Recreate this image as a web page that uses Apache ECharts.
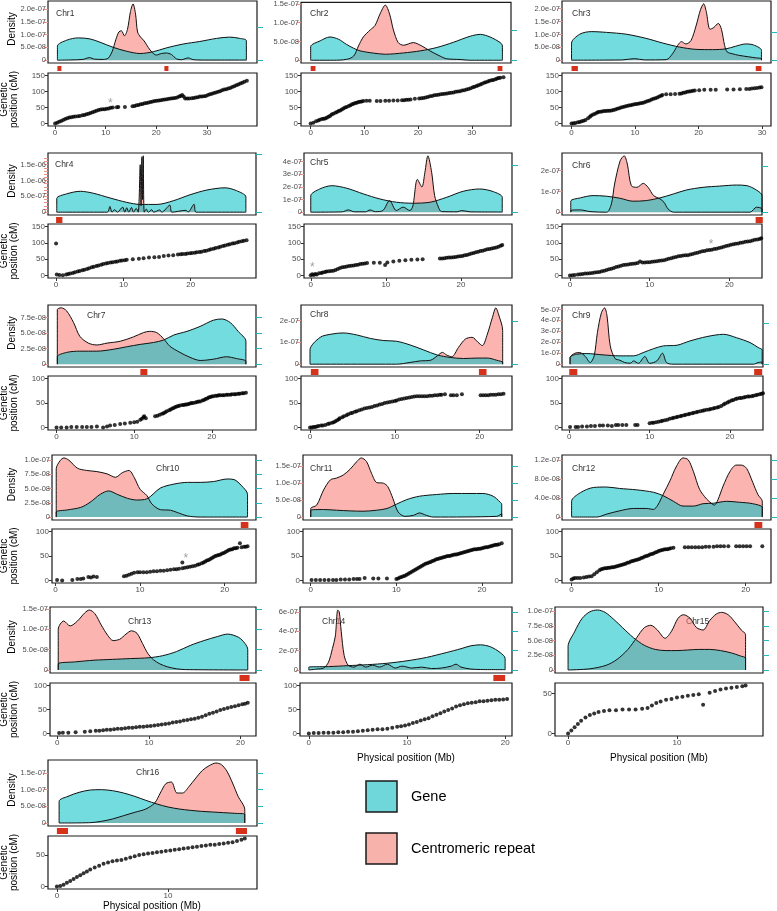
<!DOCTYPE html>
<html><head><meta charset="utf-8">
<script src="https://cdn.jsdelivr.net/npm/echarts@6/dist/echarts.min.js"></script>
<style>html,body{margin:0;padding:0;background:#fff}#c{width:777px;height:911px}</style>
</head><body><div id="c"></div>
<script>
// ---------------- DATA (density values in units of 1e-8) ----------------
const physTicks = [0, 10, 20, 30];
const cmTicks = [0, 50, 100, 150];

const chr1DensLabels = ['0','5.0e-08','1.0e-07','1.5e-07','2.0e-07'];
const chr2DensLabels = ['0','5.0e-08','1.0e-07','1.5e-07'];
const chr3DensLabels = ['0','5.0e-08','1.0e-07','1.5e-07','2.0e-07'];
const chr4DensLabels = ['0','5.0e-07','1.0e-06','1.5e-06'];
const chr5DensLabels = ['0','1e-07','2e-07','3e-07','4e-07'];
const chr6DensLabels = ['0','1e-07','2e-07'];
const chr7DensLabels = ['0','2.5e-08','5.0e-08','7.5e-08'];
const chr8DensLabels = ['0','1e-07','2e-07'];
const chr9DensLabels = ['0','1e-07','2e-07','3e-07','4e-07','5e-07'];
const chr10DensLabels = ['0','2.5e-08','5.0e-08','7.5e-08','1.0e-07'];
const chr11DensLabels = ['0','5.0e-08','1.0e-07','1.5e-07'];
const chr12DensLabels = ['0','4.0e-08','8.0e-08','1.2e-07'];
const chr13DensLabels = ['0','5.0e-08','1.0e-07','1.5e-07'];
const chr14DensLabels = ['0','2e-07','4e-07','6e-07'];
const chr15DensLabels = ['0','2.5e-08','5.0e-08','7.5e-08','1.0e-07'];
const chr16DensLabels = ['0','5.0e-08','1.0e-07','1.5e-07'];

const chr1GeneTicks = [0, 12.7];
const chr2GeneTicks = [0, 7.9];
const chr3GeneTicks = [0, 10.9];
const chr4GeneTicks = [0, 183];
const chr5GeneTicks = [0, 37.6];
const chr6GeneTicks = [0, 22.4];
const chr7GeneTicks = [0, 2.5, 5, 7.5];
const chr8GeneTicks = [0, 19.7];
const chr9GeneTicks = [0, 37.3];
const chr10GeneTicks = [0, 2.5, 5, 7.5, 10];
const chr11GeneTicks = [0, 5, 10, 15];
const chr12GeneTicks = [0, 4, 8, 12];
const chr13GeneTicks = [0, 5, 10, 15];
const chr14GeneTicks = [0, 20, 40, 60];
const chr15GeneTicks = [0, 2.5, 5, 7.5, 10];
const chr16GeneTicks = [0, 5, 10, 15];

const chr1Gene = [[0.46,5.5],[2.3,7.8],[4.6,8.7],[6.9,8.3],[8.9,7.0],[11.5,5.0],[14.1,3.5],[16.8,2.6],[19.4,3.3],[22.0,4.8],[25.3,6.3],[28.6,7.3],[31.9,8.5],[34.5,9.0],[36.5,8.5],[37.8,7.6]];
const chr1Repeat = [[0.46,0.1],[3,0.1],[5.5,0.3],[6.8,1.0],[7.8,0.4],[9.5,0.3],[10.5,0.8],[11.3,3.5],[12.0,8.0],[12.6,11.0],[13.1,11.5],[13.7,9.5],[14.3,12],[14.9,19],[15.4,22],[15.9,18],[16.3,11],[16.9,9],[17.6,7.5],[18.4,5],[19.2,3],[20,2],[21,2.6],[22,2.8],[23,2.2],[24,0.5],[25,0.2],[26.3,0.9],[27.3,0.2],[30,0.05],[37.8,0.05]];
const chr2Gene = [[0,3.6],[1.8,5.2],[3.6,6.2],[5.2,5.6],[6.7,4.2],[8.0,3.2],[9.2,2.5],[11.7,1.9],[13.9,1.6],[17.3,1.95],[20.4,2.5],[23.5,3.4],[26.6,4.8],[29.7,6.4],[31.6,6.9],[33.4,6.2],[35.3,4.7],[35.7,3.8]];
const chr2Repeat = [[0,0],[4.2,0],[6.7,0.25],[8.0,1.1],[8.9,3.8],[9.8,6.2],[11.1,8.1],[12.0,9.3],[12.9,12.3],[13.9,14.7],[14.7,12.3],[15.4,8.1],[16.3,4.7],[17.3,4.0],[19.1,4.7],[20.7,3.8],[22.2,2.5],[24.1,1.1],[25.3,0.4],[27.8,0.2],[29.7,0],[35.7,0]];
const chr3Gene = [[0,6.6],[1.3,10.1],[3.1,11.1],[5.5,10.8],[8.6,10.1],[11.7,8.5],[14.3,6.7],[17.0,5.1],[19.6,4.2],[22.2,4.1],[24.3,4.4],[25.8,5.4],[27.4,6.3],[28.4,6.1],[29.9,3.8]];
const chr3Repeat = [[0,0],[8,0.1],[9.9,0.6],[11.5,0.1],[14.9,0.2],[15.9,2.5],[16.7,5.7],[17.3,7.2],[18.0,6.3],[18.8,7.6],[19.6,13.3],[20.3,19.6],[20.8,21.9],[21.2,19.0],[21.8,12.0],[22.4,12.7],[23.1,14.3],[23.6,12.0],[24.1,5.7],[24.5,3.2],[25.3,2.5],[26.3,1.9],[27.9,1.3],[29.0,0.9],[29.9,0.6]];
const chr4Gene = [[0.1,43],[1.6,58],[3.6,66],[5.5,60],[8.0,45],[10.5,31],[12.5,24.5],[15.0,24.5],[17.4,36],[19.9,55],[22.4,70],[25.1,77],[26.8,68],[28.2,48]];
const chr4Repeat = [[0.1,0],[7.6,0],[8.0,18],[8.3,0],[8.7,8],[9.1,0],[9.9,16],[10.2,0],[10.5,14],[10.8,0],[11.2,15],[11.5,0],[11.9,12],[12.2,0],[12.5,150],[12.62,20],[12.75,175],[12.85,40],[12.95,178],[13.1,0],[13.4,10],[13.7,0],[14.2,8],[14.5,0],[15.4,7],[15.7,0],[16.9,22],[17.2,0],[19.3,6],[19.6,0],[20.5,25],[20.8,0],[28.2,0]];
const chr5Gene = [[0,13],[1.2,18.4],[2.8,21],[4.8,19],[7.0,14.5],[9.2,10.5],[11.4,7.9],[13.6,7.1],[15.9,7.9],[18.1,11.8],[20.3,16.6],[22.5,18.4],[24.3,16.3],[25.5,11.8]];
const chr5Repeat = [[0,0.2],[4.2,0.3],[5.0,1.8],[5.8,0.3],[7.3,0.3],[7.9,1.8],[8.6,0.4],[9.6,1.3],[10.5,9.2],[11.4,1.3],[12.3,4.0],[13.2,1.3],[13.6,5.0],[14.2,26],[14.8,20],[15.2,31.6],[15.6,44.7],[16.1,31.6],[16.5,13],[17.0,4],[17.4,0.5],[19.5,0.3],[20.1,1.3],[21.2,0.3],[25.5,0.1]];
const chr6Gene = [[0.1,5.3],[1.3,6.9],[2.9,8.0],[4.6,7.7],[6.3,6.7],[7.9,5.3],[9.6,5.6],[11.3,6.9],[13.0,8.8],[14.6,10.7],[16.7,12.0],[18.8,12.6],[20.9,13.1],[22.2,12.8],[23.4,10.7],[24.1,8.0]];
const chr6Repeat = [[0.1,0.8],[1.3,1.1],[2.5,0.3],[4.6,0],[5.2,4],[5.6,13.6],[6.3,24.8],[6.8,27.2],[7.2,23.2],[7.7,12.8],[8.4,12.0],[9.2,13.9],[9.8,12.0],[10.5,8.0],[11.3,6.4],[11.8,4.8],[12.3,1.6],[13.0,0],[22.6,0],[23.4,2.4],[24.1,1.6]];
const chr7Gene = [[0.1,1.2],[1.3,1.9],[3.0,2.1],[5.2,2.1],[7.3,2.4],[9.0,2.8],[10.8,3.2],[12.5,3.5],[13.8,3.9],[15.1,4.7],[16.8,5.3],[18.5,6.1],[20.2,7.1],[21.3,7.3],[22.4,6.7],[23.4,5.3],[24.4,3.7]];
const chr7Repeat = [[0.1,8.8],[0.6,9.1],[1.3,8.6],[2.2,6.7],[3.0,4.5],[4.1,3.4],[5.2,3.1],[6.5,3.4],[8.2,3.7],[9.9,4.4],[11.2,5.1],[12.0,5.3],[12.9,5.1],[13.8,4.1],[14.6,2.9],[15.9,1.9],[17.2,1.1],[18.5,0.6],[20.2,0.8],[21.9,1.2],[23.2,0.9],[24.4,0.5]];
const chr8Gene = [[0,6.5],[1.2,12.3],[2.6,13.8],[3.9,14.3],[5.5,13.4],[7.1,11.8],[8.7,10.8],[10.2,10.5],[11.8,8.8],[13.4,6.5],[15.0,4.2],[16.5,3.1],[18.1,2.6],[19.7,2.8],[20.9,2.8],[22.0,1.8],[22.7,0.8]];
const chr8Repeat = [[0,0],[10.2,0],[11.8,0.8],[13.0,1.5],[14.2,1.8],[15.0,3.8],[15.6,5.4],[16.1,4.2],[16.7,3.4],[17.5,7.7],[18.3,11.5],[19.1,12.3],[19.8,10.0],[20.3,8.5],[20.9,13.8],[21.5,21.5],[21.9,25.8],[22.2,23.0],[22.7,15.4]];
const chr9Gene = [[0.1,6],[0.9,9.1],[2.2,9.7],[4.2,8.5],[6.3,7.6],[8.0,7.6],[9.2,10.6],[10.5,14.2],[11.7,16.7],[13.4,17.3],[15.0,21.2],[17.1,25.2],[19.2,27.3],[20.8,24.2],[22.5,19.7],[23.5,15.2],[24.0,13]];
const chr9Repeat = [[0.1,6],[0.7,10],[1.3,10.6],[2.0,7],[2.6,1.5],[3.1,7.6],[3.5,28.8],[4.0,47],[4.4,51.5],[4.7,44],[5.1,16.7],[5.7,5.2],[6.3,3.6],[6.9,1.5],[7.6,0.9],[8.0,3],[8.6,0.8],[9.4,7],[10.0,0.8],[10.9,3],[11.6,10],[12.1,1.5],[12.9,0],[22.9,0],[23.5,1.5],[24.0,2]];
const chr10Gene = [[0.1,0.9],[1.4,1.25],[3.0,1.7],[4.1,2.6],[5.3,4.0],[6.3,4.6],[7.3,4.0],[8.5,3.3],[9.6,3.0],[10.8,3.2],[12.4,5.1],[14.0,5.8],[15.6,6.1],[17.1,6.1],[18.7,6.25],[20.3,6.7],[21.1,6.6],[22.0,5.5],[22.7,4.0]];
const chr10Repeat = [[0.1,8.5],[0.6,10],[1.0,10.4],[1.6,10],[2.6,8.6],[3.7,8.2],[4.9,8.0],[6.1,7.6],[7.1,7.0],[7.9,7.8],[8.7,8.2],[9.3,7.0],[10.0,4.9],[10.8,3.8],[11.4,2.3],[12.4,1.3],[13.6,1.2],[14.4,0.8],[15.6,0.2],[17.1,0],[22.7,0]];
const chr11Gene = [[0,2],[1.5,2.2],[3.0,2.0],[4.6,1.8],[6.1,1.7],[7.7,2.0],[8.9,2.5],[10.0,3.75],[11.2,5.1],[12.7,6.1],[14.7,6.6],[16.6,6.9],[18.6,6.9],[20.1,6.9],[21.3,6.1],[22.1,4.4],[22.3,3.75]];
const chr11Repeat = [[0,2.5],[0.7,3.5],[1.5,7.9],[2.3,10.9],[3.0,11.4],[3.8,12.3],[4.6,14.0],[5.4,16.3],[5.9,17.3],[6.5,16.3],[7.1,12.8],[7.7,10.1],[8.5,9.9],[9.0,8.9],[9.6,5.4],[10.2,1.5],[11.0,0.2],[12.0,0.5],[12.7,1.2],[13.5,0.5],[14.3,0],[21.7,0.2],[22.3,1]];
const chr12Gene = [[0,3.3],[1.0,5.1],[2.5,6.2],[4.0,6.3],[5.5,6.0],[7.5,5.7],[9.4,5.2],[10.5,4.5],[11.7,3.3],[12.8,2.3],[14.0,2.3],[15.1,2.8],[16.3,2.9],[17.8,3.3],[19.3,3.1],[20.8,2.8],[21.9,2.0]];
const chr12Repeat = [[0,0],[2.9,0],[4.0,0.6],[5.5,1.3],[7.1,1.8],[8.6,1.8],[9.4,1.6],[9.9,2.5],[10.5,4.7],[11.3,7.6],[12.0,10.5],[12.8,12.4],[13.4,12.0],[14.0,9.5],[14.7,5.8],[15.5,3.8],[16.1,2.8],[16.4,2.5],[16.8,3.6],[17.4,6.5],[18.2,9.6],[18.9,10.9],[19.5,10.9],[20.1,10.2],[20.8,7.3],[21.4,4.7],[21.9,3.3]];
const chr13Gene = [[0.1,1.5],[2,2.0],[4,2.4],[6,2.6],[8,2.8],[10,3.0],[11.5,3.5],[13,4.5],[14.5,6.0],[16,7.2],[17.5,8.2],[18.6,8.8],[19.8,8.0],[20.5,6.5],[20.8,5.0]];
const chr13Repeat = [[0.1,10.0],[0.7,12.0],[1.4,10.8],[2.2,12.0],[3.0,14.0],[3.5,14.7],[4.1,13.8],[4.8,11.0],[5.5,8.5],[6.1,7.2],[6.8,7.5],[7.5,8.8],[8.1,9.6],[8.7,9.0],[9.3,6.5],[9.9,4.0],[10.5,2.5],[11.2,1.5],[12.0,0.8],[13.0,0.3],[14.0,0.1],[20.8,0]];
const chr14Gene = [[0,3],[2,3.5],[4,4.5],[6,5.5],[8,7.0],[10,9.5],[12,13],[14,18],[15.5,22],[16.5,25],[17.5,26],[18.5,24],[19.5,18],[20.0,12]];
const chr14Repeat = [[0,0.5],[0.8,1],[1.5,2],[2.0,8],[2.4,22],[2.7,35],[2.95,62],[3.1,60],[3.3,40],[3.6,15],[4.0,5],[4.6,3],[5.2,6],[5.8,3],[6.5,5],[7.2,3],[8.0,6],[8.8,2],[9.5,4],[10.5,2],[11.5,3],[12.5,1.5],[13.5,2],[14.5,4],[15.0,6],[15.5,3],[16.5,1],[17.5,0.5],[20,0.3]];
const chr15Gene = [[0,4.0],[0.6,6.5],[1.3,8.8],[2.0,9.9],[2.7,10.2],[3.4,9.8],[4.2,8.6],[5.0,7.2],[6.0,5.5],[7.0,4.2],[8.0,3.5],[9.0,3.3],[10.0,3.3],[11.0,3.4],[12.0,3.5],[13.0,3.5],[14.0,3.3],[15.0,2.9],[15.8,2.4],[16.3,2.0]];
const chr15Repeat = [[0,0],[2,0.2],[3.5,0.8],[4.5,1.8],[5.5,3.5],[6.3,5.5],[7.0,7.2],[7.6,7.6],[8.2,6.8],[8.9,5.4],[9.5,6.6],[10.1,8.8],[10.6,9.4],[11.2,8.8],[11.8,7.2],[12.4,6.8],[13.0,8.4],[13.6,9.5],[14.1,9.8],[14.7,9.4],[15.3,8.2],[15.9,6.8],[16.3,6.0]];
const chr16Gene = [[0.2,6.5],[1,8.0],[2,9.2],[3,9.9],[4,10.0],[5,9.7],[6,9.0],[7,8.0],[8,6.8],[9,5.7],[10,4.8],[11,4.2],[12,3.8],[13,3.5],[14,3.3],[15,3.1],[16,2.9],[16.9,2.6]];
const chr16Repeat = [[0.2,0],[3,0.1],[4,0.5],[5,1.2],[6,2.2],[7,3.2],[8,4.2],[8.8,6],[9.3,9],[9.8,11.8],[10.3,12.3],[10.8,9.0],[11.3,9.0],[11.9,11],[12.5,13.5],[13.1,15.8],[13.7,17.2],[14.3,18.0],[14.8,17.5],[15.3,15.5],[15.8,12],[16.3,8],[16.9,4]];

// Genetic (cM) vs physical (Mb) marker positions
const chr1Map = [[0,0],[0.4,3],[0.8,6],[1.2,8],[1.6,11],[2.0,14],[2.4,17],[2.8,19],[3.2,20],[3.6,21],[4.0,22],[4.5,23],[4.9,24],[5.4,26],[5.8,27],[6.2,29],[6.6,31],[7.0,33],[7.4,35],[7.8,38],[8.2,40],[8.6,42],[9.0,44],[9.4,45],[9.8,45],[10.2,46],[10.6,47],[11.0,49],[11.4,50],[12.2,51],[12.5,52],[13.8,52],[15.3,54],[15.7,55],[16.1,57],[16.5,58],[16.9,60],[17.3,61],[17.7,63],[18.1,64],[18.5,66],[18.9,67],[19.3,69],[19.7,70],[20.1,71],[20.5,72],[20.9,73],[21.3,74],[21.7,75],[22.1,76],[22.5,77],[22.9,78],[23.3,79],[23.7,80],[24.1,81],[24.5,84],[24.8,86],[25.1,89],[25.4,84],[25.7,78],[26.1,78],[26.5,78],[27.0,79],[27.4,80],[27.8,81],[28.2,82],[28.6,84],[29.0,84],[29.4,85],[29.8,86],[30.2,89],[30.6,91],[31.0,93],[31.4,95],[31.8,97],[32.2,99],[32.6,101],[33.0,104],[33.4,106],[33.8,107],[34.2,109],[34.6,111],[35.0,114],[35.4,116],[35.8,119],[36.2,122],[36.6,125],[37.0,127],[37.4,130],[37.9,133]];
const chr2Map = [[0,0],[0.5,3],[1.0,7],[1.4,10],[1.7,12],[2.1,14],[2.4,15],[2.7,16],[3.0,18],[3.3,21],[3.6,24],[3.9,28],[4.2,31],[4.6,34],[4.9,36],[5.2,39],[5.5,41],[5.8,44],[6.1,47],[6.4,50],[6.7,52],[7.1,55],[7.4,57],[7.7,60],[8.0,62],[8.3,64],[8.6,65],[8.9,67],[9.2,68],[9.5,69],[9.8,70],[10.4,71],[11.0,71],[12.3,70],[13.0,70],[13.9,71],[14.6,71],[15.4,72],[16.2,72],[17.0,73],[17.4,73],[17.8,74],[18.2,74],[18.6,75],[19.4,77],[20.2,78],[20.6,79],[21.0,80],[21.4,81],[21.8,83],[22.2,85],[22.6,86],[23.0,88],[23.4,89],[23.8,90],[24.2,91],[24.6,92],[25.0,93],[25.4,94],[25.8,95],[26.2,96],[26.6,97],[27.0,99],[27.4,100],[27.8,101],[28.2,103],[28.6,104],[29.0,106],[29.4,108],[29.8,110],[30.2,113],[30.5,115],[30.9,117],[31.2,119],[31.6,122],[31.9,124],[32.3,127],[32.6,129],[33.0,131],[33.3,133],[33.7,135],[34.0,136],[34.4,138],[34.7,140],[35.0,142],[35.3,143],[35.9,144]];
const chr3Map = [[0,0],[0.3,1],[0.6,2],[1.0,4],[1.3,5],[1.6,7],[1.9,9],[2.2,11],[2.6,17],[2.9,21],[3.1,25],[3.4,28],[3.7,31],[4.0,34],[4.2,36],[4.5,37],[4.8,38],[5.1,39],[5.4,39],[5.7,40],[6.0,40],[6.3,41],[6.6,42],[6.9,44],[7.2,46],[7.5,48],[7.8,50],[8.1,52],[8.4,53],[8.7,55],[9.0,56],[9.3,57],[9.6,59],[9.9,60],[10.2,61],[10.5,62],[10.8,63],[11.1,64],[11.4,66],[11.7,68],[12.0,70],[12.3,72],[12.6,75],[12.9,77],[13.2,79],[13.5,81],[13.8,84],[14.1,87],[14.3,89],[14.9,91],[15.6,91],[16.3,92],[17.0,93],[17.3,94],[17.6,96],[17.9,97],[18.2,99],[18.5,100],[18.8,101],[19.1,102],[19.4,103],[20.1,104],[20.9,105],[21.9,105],[22.7,105],[24.5,106],[25.5,106],[26.5,107],[27.5,108],[28.0,108],[28.4,109],[28.8,110],[29.2,111],[29.6,112],[29.9,113]];
const chr4Map = [[0,97.6],[0.1,3],[0.5,2],[1.0,1],[1.5,3],[1.8,5],[2.1,6],[2.5,8],[2.8,10],[3.2,12],[3.5,14],[3.9,16],[4.2,18],[4.6,20],[4.9,22],[5.3,25],[5.6,27],[6.0,29],[6.3,31],[6.7,33],[7.0,35],[7.4,37],[7.7,38],[8.1,40],[8.4,41],[8.8,42],[9.1,43],[9.5,45],[9.8,46],[10.2,47],[10.5,48],[11.4,50],[12.3,51],[13.0,53],[13.8,55],[14.6,56],[15.3,57],[16.0,60],[16.7,61],[17.4,62],[18.1,64],[18.5,65],[18.8,66],[19.2,66],[19.5,67],[19.9,68],[20.2,69],[20.6,70],[20.9,71],[21.3,72],[21.6,73],[22.0,75],[22.3,76],[22.7,78],[23.0,80],[23.4,82],[23.7,84],[24.1,86],[24.4,88],[24.8,90],[25.1,92],[25.5,94],[25.8,96],[26.2,98],[26.5,99],[26.9,101],[27.2,103],[27.6,105],[27.9,106],[28.3,108]];
const chr5Map = [[0,1],[0.2,4],[0.4,2],[0.6,5],[0.8,3],[1.1,7],[1.4,8],[1.6,9],[1.9,11],[2.1,12],[2.4,13],[2.7,14],[3.0,15],[3.3,17],[3.6,20],[3.9,23],[4.2,25],[4.5,26],[4.8,28],[5.1,29],[5.4,30],[5.7,31],[6.0,32],[6.3,33],[6.6,35],[6.9,36],[7.2,37],[7.5,38],[8.4,39],[9.2,39],[9.9,32],[10.2,40],[11.0,43],[11.8,45],[12.6,47],[13.4,48],[14.2,49],[14.9,50],[17.2,52],[17.5,52],[17.8,53],[18.1,54],[18.4,55],[18.7,55],[19.0,56],[19.3,57],[19.6,58],[19.9,59],[20.2,60],[20.5,62],[20.8,63],[21.1,65],[21.4,67],[21.7,69],[22.0,71],[22.3,73],[22.6,75],[22.9,76],[23.2,78],[23.5,80],[23.8,81],[24.1,83],[24.4,84],[24.7,86],[25.0,88],[25.3,91],[25.5,93]];
const chr6Map = [[0,0],[0.3,1],[0.6,2],[1.0,3],[1.3,4],[1.6,5],[1.9,6],[2.2,6],[2.5,7],[2.8,8],[3.1,9],[3.4,10],[3.7,11],[4.0,13],[4.3,15],[4.6,17],[4.9,19],[5.2,21],[5.5,23],[5.8,26],[6.1,28],[6.4,30],[6.7,32],[7.0,33],[7.3,34],[7.6,35],[7.9,36],[8.2,37],[8.5,38],[8.8,43],[9.1,40],[9.4,40],[9.7,41],[10.0,41],[10.3,42],[10.6,43],[10.9,44],[11.2,45],[11.5,46],[11.8,47],[12.1,49],[12.4,51],[12.7,53],[13.0,55],[13.3,57],[13.6,59],[13.9,60],[14.2,61],[14.5,62],[14.8,62],[15.1,64],[15.4,66],[15.7,68],[16.0,70],[16.3,72],[16.6,74],[16.9,75],[17.2,77],[17.5,78],[17.8,79],[18.1,81],[18.4,82],[18.7,84],[19.0,86],[19.3,88],[19.6,90],[19.9,92],[20.2,94],[20.5,96],[20.8,97],[21.1,98],[21.4,100],[21.7,101],[22.0,103],[22.3,104],[22.6,105],[22.9,107],[23.2,109],[23.5,110],[23.8,112],[24.0,114]];
const chr7Map = [[0,0],[0.6,0],[1.3,0],[1.9,1],[2.6,1],[3.3,1],[3.9,1],[4.5,1],[5.2,2],[6.0,0],[6.5,2],[6.9,4],[7.5,5],[8.2,7],[8.8,8],[9.5,10],[10.0,11],[10.4,12],[10.8,16],[11.0,18],[11.2,21],[11.3,23],[11.5,19],[12.7,23],[13.0,24],[13.3,26],[13.6,28],[13.8,29],[14.0,31],[14.2,33],[14.5,35],[14.7,37],[14.9,39],[15.1,40],[15.3,42],[15.5,43],[15.7,44],[15.9,45],[16.2,46],[16.4,46],[16.6,47],[16.8,47],[17.0,48],[17.2,49],[17.4,50],[17.6,50],[17.9,51],[18.1,52],[18.3,53],[18.5,53],[18.8,55],[19.0,56],[19.2,58],[19.4,59],[19.6,61],[19.8,62],[20.0,63],[20.2,64],[20.5,65],[20.7,65],[20.9,66],[21.1,66],[21.4,66],[21.6,66],[21.9,67],[22.1,67],[22.4,67],[22.6,68],[22.9,68],[23.1,68],[23.4,69],[23.6,69],[23.9,70],[24.1,70],[24.4,71]];
const chr8Map = [[0,0],[0.2,0],[0.4,1],[0.6,1],[0.8,2],[1.0,3],[1.3,4],[1.5,4],[1.8,5],[2.1,7],[2.3,8],[2.6,10],[2.8,11],[3.0,13],[3.2,15],[3.4,17],[3.5,19],[3.8,21],[4.0,23],[4.3,25],[4.5,27],[4.8,29],[5.0,30],[5.3,32],[5.5,33],[5.8,35],[6.1,37],[6.4,39],[6.7,40],[7.0,41],[7.3,42],[7.6,44],[7.9,45],[8.2,47],[8.5,48],[8.8,50],[9.1,51],[9.4,52],[9.7,53],[10.0,54],[10.2,55],[10.5,57],[10.8,58],[11.1,59],[11.4,60],[11.7,61],[12.0,62],[12.3,63],[12.6,64],[12.9,64],[13.2,64],[13.5,64],[13.8,64],[14.1,65],[14.4,65],[14.7,66],[15.0,66],[15.3,67],[15.5,67],[15.9,68],[16.6,66],[16.9,66],[17.3,66],[17.9,68],[20.1,66],[20.4,66],[20.7,66],[21.0,66],[21.3,67],[21.6,67],[21.9,67],[22.2,68],[22.5,68],[22.8,69]];
const chr9Map = [[0.1,1],[0.8,1],[1.1,1],[1.6,2],[2.2,2],[2.7,3],[3.2,3],[3.8,4],[4.2,4],[4.8,4],[5.3,3],[5.8,5],[6.1,5],[6.6,5],[7.1,5],[8.2,5],[8.5,5],[10.0,9],[10.3,10],[10.5,10],[10.8,11],[11.1,12],[11.4,13],[11.6,14],[11.9,15],[12.2,16],[12.5,18],[12.8,19],[13.0,20],[13.3,21],[13.5,22],[13.8,23],[14.0,24],[14.3,25],[14.5,26],[14.8,27],[15.0,28],[15.3,29],[15.5,30],[15.8,31],[16.0,32],[16.3,33],[16.6,34],[16.8,35],[17.1,36],[17.4,37],[17.6,38],[17.9,39],[18.1,40],[18.4,41],[18.6,42],[18.9,44],[19.2,47],[19.4,49],[19.7,51],[19.9,53],[20.2,55],[20.4,56],[20.7,58],[20.9,59],[21.2,60],[21.4,60],[21.7,61],[21.9,62],[22.2,63],[22.4,63],[22.7,64],[22.9,65],[23.2,66],[23.4,67],[23.7,68],[23.9,69],[24.1,70]];
const chr10Map = [[0.2,1],[0.8,0],[2.0,1],[2.6,3],[3.0,3],[3.3,4],[3.9,7],[4.2,6],[4.5,8],[4.9,7],[8.1,9],[8.4,10],[8.7,12],[9.0,14],[9.3,16],[9.7,17],[10.0,17],[10.4,17],[10.8,17],[11.2,18],[11.6,19],[12.0,19],[12.4,20],[12.8,20],[13.2,21],[13.6,22],[14.0,23],[14.3,23],[14.6,24],[15.0,25],[15.0,37],[15.3,26],[15.6,27],[15.9,28],[16.2,29],[16.5,30],[16.8,32],[17.0,33],[17.3,35],[17.5,37],[17.7,39],[17.9,41],[18.1,42],[18.3,44],[18.5,46],[18.7,48],[18.9,50],[19.1,51],[19.3,52],[19.5,53],[19.7,55],[19.9,56],[20.1,58],[20.3,60],[20.5,62],[20.7,63],[20.9,64],[21.1,66],[21.3,66],[21.5,67],[21.8,76],[22.0,68],[22.3,69],[22.5,69],[22.7,70]];
const chr11Map = [[0.1,1],[0.6,1],[1.1,1],[1.6,1],[2.1,1],[2.6,1],[3.0,1],[3.5,2],[4.0,2],[4.5,2],[5.0,3],[5.4,3],[5.7,3],[6.3,5],[7.3,4],[7.9,4],[8.9,4],[10.0,3],[10.2,4],[10.4,6],[10.6,7],[10.8,9],[11.0,10],[11.2,12],[11.4,14],[11.6,16],[11.8,18],[12.0,20],[12.2,22],[12.4,24],[12.6,26],[12.8,28],[13.0,30],[13.2,32],[13.4,34],[13.6,35],[13.8,37],[14.0,38],[14.2,40],[14.4,41],[14.6,43],[14.8,44],[15.0,45],[15.2,46],[15.4,47],[15.6,48],[15.8,49],[16.0,50],[16.2,50],[16.4,51],[16.6,52],[16.8,53],[17.0,53],[17.2,54],[17.4,55],[17.6,56],[17.8,57],[18.0,58],[18.2,59],[18.4,60],[18.6,61],[18.8,62],[19.0,63],[19.2,64],[19.4,64],[19.6,65],[19.8,65],[20.0,66],[20.2,67],[20.4,68],[20.6,68],[20.8,69],[21.0,70],[21.2,71],[21.4,72],[21.6,73],[21.8,73],[22.0,74],[22.3,76]];
const chr12Map = [[0,2],[0.2,4],[0.4,5],[0.7,5],[1.0,5],[1.4,6],[1.7,7],[2.0,8],[2.3,9],[2.6,13],[2.9,17],[3.2,21],[3.4,23],[3.6,24],[3.8,25],[4.0,25],[4.2,26],[4.4,26],[4.6,27],[4.8,27],[5.0,28],[5.2,29],[5.4,30],[5.6,31],[5.8,32],[6.0,33],[6.2,34],[6.4,36],[6.6,37],[6.8,39],[7.0,40],[7.2,41],[7.4,42],[7.6,43],[7.8,44],[8.0,46],[8.2,47],[8.4,49],[8.6,50],[8.8,51],[9.0,53],[9.2,54],[9.4,55],[9.6,57],[9.8,58],[10.0,60],[10.2,61],[10.4,62],[10.6,63],[10.8,64],[11.0,64],[11.2,65],[11.4,66],[11.7,67],[13.0,68],[13.4,68],[13.8,68],[14.2,68],[14.6,68],[15.0,68],[15.4,69],[15.8,69],[16.3,69],[16.7,70],[17.1,70],[17.5,70],[18.0,70],[18.9,70],[19.3,70],[19.7,70],[20.1,70],[20.5,70],[21.9,70]];
const chr13Map = [[0.2,1],[0.6,2],[1.2,2],[2.0,3],[3.0,4],[3.6,5],[4.2,6],[4.6,6],[5.0,7],[5.4,8],[5.8,8],[6.2,9],[6.6,10],[7.0,10],[7.4,11],[7.8,12],[8.2,12],[8.6,13],[9.0,14],[9.4,14],[9.8,15],[10.2,16],[10.6,17],[11.0,18],[11.4,19],[11.8,20],[12.2,21],[12.6,23],[13.0,24],[13.4,25],[13.8,27],[14.2,28],[14.6,30],[15.0,31],[15.4,33],[15.8,35],[16.2,38],[16.6,41],[17.0,43],[17.4,46],[17.8,49],[18.2,51],[18.6,53],[19.0,55],[19.4,57],[19.8,59],[20.2,61],[20.5,62],[20.8,64]];
const chr14Map = [[0,0],[0.5,1],[1.0,1],[1.5,2],[2.0,2],[2.5,2],[3.0,3],[3.5,3],[4.0,4],[4.5,4],[5.0,5],[5.5,6],[6.0,7],[6.5,8],[7.0,9],[7.5,9],[8.0,10],[8.5,12],[9.0,14],[9.4,15],[9.8,17],[10.2,19],[10.6,22],[11.0,24],[11.4,27],[11.8,30],[12.2,32],[12.6,36],[13.0,39],[13.4,42],[13.8,46],[14.2,49],[14.6,52],[15.0,56],[15.4,59],[15.8,61],[16.2,63],[16.6,64],[17.0,65],[17.4,67],[17.8,67],[18.2,68],[18.6,69],[19.0,70],[19.4,70],[19.8,71],[20.2,72]];
const chr15Map = [[0,0],[0.3,4],[0.6,8],[0.9,12],[1.2,16],[1.6,20],[2.0,23],[2.4,25],[2.8,27],[3.3,28],[3.8,29],[4.4,29],[5.0,30],[5.6,30],[6.2,30],[6.8,31],[7.3,32],[7.7,35],[8.1,38],[8.5,40],[9.0,42],[9.5,43],[10.0,45],[10.5,46],[11.0,47],[11.5,48],[12.0,49],[12.4,36],[13.0,51],[13.5,53],[14.0,55],[14.5,56],[15.0,57],[15.5,58],[16.0,59],[16.3,60]];
const chr16Map = [[0,0],[0.3,1],[0.6,3],[0.9,6],[1.2,9],[1.5,12],[1.8,15],[2.1,18],[2.4,21],[2.7,24],[3.0,27],[3.4,30],[3.8,33],[4.2,36],[4.6,38],[5.0,40],[5.4,41],[5.8,42],[6.2,44],[6.6,46],[7.0,48],[7.4,50],[7.8,51],[8.2,52],[8.6,53],[9.0,54],[9.4,55],[9.8,56],[10.2,57],[10.6,58],[11.0,59],[11.4,60],[11.8,61],[12.2,62],[12.6,63],[13.0,64],[13.4,65],[13.8,66],[14.2,66],[14.6,67],[15.0,68],[15.4,69],[15.8,70],[16.2,72],[16.6,74],[16.9,76]];

// centromere marks [start, end] Mb
const chr1Cen = [[0.46,1.25],[21.6,22.4]];
const chr2Cen = [[0,0.9],[34.8,35.7]];
const chr3Cen = [[0,1.0],[29,29.9]];
const chr4Cen = [[0,0.94]];
const chr5Cen = [];
const chr6Cen = [[23.3,24.2]];
const chr7Cen = [[10.8,11.7]];
const chr8Cen = [[0.1,1.0],[19.9,20.8]];
const chr9Cen = [[0,1.0],[23,24]];
const chr10Cen = [[21.9,22.8]];
const chr11Cen = [];
const chr12Cen = [[21,21.9]];
const chr13Cen = [[19.9,21.0]];
const chr14Cen = [[18.8,20.0]];
const chr15Cen = [];
const chr16Cen = [[0,1.0],[16.1,17.1]];

const chr1Stars = [[10.9,71]];
const chr5Stars = [[0.2,32]];
const chr6Stars = [[17.7,104]];
const chr10Stars = [[15.4,50]];

const chr1Cm = [0,150], chr2Cm = [0,150], chr3Cm = [0,150], chr4Cm = [0,150], chr5Cm = [0,150], chr6Cm = [0,150];
const chr7Cm = [0,100], chr8Cm = [0,100], chr9Cm = [0,100], chr10Cm = [0,100], chr11Cm = [0,100], chr12Cm = [0,100];
const chr13Cm = [0,100], chr14Cm = [0,100], chr15Cm = [0,60], chr16Cm = [0,76];

const chrData = {
  Chr1:{gene:chr1Gene,rep:chr1Repeat,map:chr1Map,cen:chr1Cen,stars:chr1Stars,dens:chr1DensLabels,geneTicks:chr1GeneTicks,cm:chr1Cm},
  Chr2:{gene:chr2Gene,rep:chr2Repeat,map:chr2Map,cen:chr2Cen,stars:[],dens:chr2DensLabels,geneTicks:chr2GeneTicks,cm:chr2Cm},
  Chr3:{gene:chr3Gene,rep:chr3Repeat,map:chr3Map,cen:chr3Cen,stars:[],dens:chr3DensLabels,geneTicks:chr3GeneTicks,cm:chr3Cm},
  Chr4:{gene:chr4Gene,rep:chr4Repeat,map:chr4Map,cen:chr4Cen,stars:[],dens:chr4DensLabels,geneTicks:chr4GeneTicks,cm:chr4Cm,minorStep:10},
  Chr5:{gene:chr5Gene,rep:chr5Repeat,map:chr5Map,cen:chr5Cen,stars:chr5Stars,dens:chr5DensLabels,geneTicks:chr5GeneTicks,cm:chr5Cm},
  Chr6:{gene:chr6Gene,rep:chr6Repeat,map:chr6Map,cen:chr6Cen,stars:chr6Stars,dens:chr6DensLabels,geneTicks:chr6GeneTicks,cm:chr6Cm},
  Chr7:{gene:chr7Gene,rep:chr7Repeat,map:chr7Map,cen:chr7Cen,stars:[],dens:chr7DensLabels,geneTicks:chr7GeneTicks,cm:chr7Cm},
  Chr8:{gene:chr8Gene,rep:chr8Repeat,map:chr8Map,cen:chr8Cen,stars:[],dens:chr8DensLabels,geneTicks:chr8GeneTicks,cm:chr8Cm},
  Chr9:{gene:chr9Gene,rep:chr9Repeat,map:chr9Map,cen:chr9Cen,stars:[],dens:chr9DensLabels,geneTicks:chr9GeneTicks,cm:chr9Cm},
  Chr10:{gene:chr10Gene,rep:chr10Repeat,map:chr10Map,cen:chr10Cen,stars:chr10Stars,dens:chr10DensLabels,geneTicks:chr10GeneTicks,cm:chr10Cm},
  Chr11:{gene:chr11Gene,rep:chr11Repeat,map:chr11Map,cen:chr11Cen,stars:[],dens:chr11DensLabels,geneTicks:chr11GeneTicks,cm:chr11Cm},
  Chr12:{gene:chr12Gene,rep:chr12Repeat,map:chr12Map,cen:chr12Cen,stars:[],dens:chr12DensLabels,geneTicks:chr12GeneTicks,cm:chr12Cm},
  Chr13:{gene:chr13Gene,rep:chr13Repeat,map:chr13Map,cen:chr13Cen,stars:[],dens:chr13DensLabels,geneTicks:chr13GeneTicks,cm:chr13Cm},
  Chr14:{gene:chr14Gene,rep:chr14Repeat,map:chr14Map,cen:chr14Cen,stars:[],dens:chr14DensLabels,geneTicks:chr14GeneTicks,cm:chr14Cm},
  Chr15:{gene:chr15Gene,rep:chr15Repeat,map:chr15Map,cen:chr15Cen,stars:[],dens:chr15DensLabels,geneTicks:chr15GeneTicks,cm:chr15Cm},
  Chr16:{gene:chr16Gene,rep:chr16Repeat,map:chr16Map,cen:chr16Cen,stars:[],dens:chr16DensLabels,geneTicks:chr16GeneTicks,cm:chr16Cm}
};

// ---------------- LAYOUT ----------------
const rowsY = [
  {dens:[1,63], bar:[66,71], scat:[73,126]},
  {dens:[153,215], bar:[217,223], scat:[224,278]},
  {dens:[305,367], bar:[369,375], scat:[376,430]},
  {dens:[455,520], bar:[522,528], scat:[529,583]},
  {dens:[607,673], bar:[675,681], scat:[683,736]},
  {dens:[760,826], bar:[828,834], scat:[836,889]}
];
// name, row, boxLeft, boxRight, xMin, xMax, labelX, labelY
const panelLayout = [
  ['Chr1',0,48,257,-1.4,39.9,56,14],
  ['Chr2',0,301,511,-1.8,37.3,310,14],
  ['Chr3',0,562,771,-1.5,31.4,572,14],
  ['Chr4',1,48,256,-1.2,29.7,55,165],
  ['Chr5',1,304,512,-0.9,26.8,310,163],
  ['Chr6',1,562,762,-1.0,24.1,572,166],
  ['Chr7',2,48,256,-1.1,25.7,87,316],
  ['Chr8',2,301,512,-1.06,23.8,310,315],
  ['Chr9',2,562,763,-0.9,24.1,572,316],
  ['Chr10',3,52,256,-0.4,23.7,156,469],
  ['Chr11',3,303,512,-0.9,23.5,310,469],
  ['Chr12',3,562,771,-1.1,22.9,572,469],
  ['Chr13',4,50,256,-0.8,21.7,128,622],
  ['Chr14',4,300,512,-0.9,20.7,322,622],
  ['Chr15',4,555,763,-1.2,17.9,686,622],
  ['Chr16',5,48,257,-0.8,18.0,136,773]
];

const fam = "'Liberation Sans', Arial, Helvetica, sans-serif";
const U = 1e-8;
const pinkFill = '#F8766D', cyanFill = '#00BFC4';
const grid = [], xAxis = [], yAxis = [], series = [], graphic = [];

function closeCurve(pts) {
  const out = pts.slice();
  if (pts[0][1] !== 0) out.unshift([pts[0][0], 0]);
  const l = pts[pts.length - 1];
  if (l[1] !== 0) out.push([l[0], 0]);
  return out;
}

panelLayout.forEach(([name,row,bl,br,xmin,xmax,lx,ly]) => {
  const d = chrData[name], R = rowsY[row], w = br - bl;
  const gi = grid.length, xi = xAxis.length, yi = yAxis.length;
  grid.push({left:bl, top:R.dens[0], width:w, height:R.dens[1]-R.dens[0], show:true, borderColor:'#1a1a1a', borderWidth:1.2, backgroundColor:'transparent'});
  grid.push({left:bl, top:R.bar[0], width:w, height:R.bar[1]-R.bar[0], show:false});
  grid.push({left:bl, top:R.scat[0], width:w, height:R.scat[1]-R.scat[0], show:true, borderColor:'#1a1a1a', borderWidth:1.2, backgroundColor:'transparent'});

  xAxis.push({gridIndex:gi, type:'value', min:xmin, max:xmax, show:false});
  xAxis.push({gridIndex:gi+1, type:'value', min:xmin, max:xmax, show:false});
  const xt = physTicks.filter(v => v >= xmin && v <= xmax);
  xAxis.push({gridIndex:gi+2, type:'value', min:xmin, max:xmax, position:'bottom',
    axisLine:{show:false,onZero:false}, splitLine:{show:false},
    axisTick:{show:true, customValues:xt, length:3, lineStyle:{color:'#333',width:1}},
    axisLabel:{show:true, customValues:xt, fontSize:8, color:'#4d4d4d', margin:3, fontFamily:fam}});

  const peak = Math.max(...d.gene.map(p=>p[1]), ...d.rep.map(p=>p[1]));
  const dmin = -0.05*peak, dmax = 1.05*peak;
  const lv = d.dens.map(s => parseFloat(s)/U);
  let tv = lv;
  if (d.minorStep) { tv = []; for (let v = 0; v <= peak; v += d.minorStep) tv.push(v); }
  const labelOf = v => { for (let k=0;k<lv.length;k++) if (Math.abs(lv[k]-v) < 1e-6) return d.dens[k]; return ''; };
  yAxis.push({gridIndex:gi, type:'value', min:dmin, max:dmax, position:'left',
    axisLine:{show:false,onZero:false}, splitLine:{show:false},
    axisTick:{show:true, customValues:tv, length:4, lineStyle:{color:'#F08C84',width:1}},
    axisLabel:{show:true, customValues:lv, formatter:labelOf, fontSize:7.5, color:'#4d4d4d', margin:2, fontFamily:fam}});
  yAxis.push({gridIndex:gi, type:'value', min:dmin, max:dmax, position:'right',
    axisLine:{show:false,onZero:false}, splitLine:{show:false},
    axisTick:{show:true, customValues:d.geneTicks, length:6, lineStyle:{color:'#1FB8BE',width:1}},
    axisLabel:{show:false}});
  yAxis.push({gridIndex:gi+1, type:'value', min:0, max:1, show:false});
  const cs = (d.cm[1]-d.cm[0])*0.05;
  const ymn = d.cm[0]-cs, ymx = d.cm[1]+cs;
  const yt = cmTicks.filter(v => v >= ymn && v <= ymx);
  yAxis.push({gridIndex:gi+2, type:'value', min:ymn, max:ymx, position:'left',
    axisLine:{show:false,onZero:false}, splitLine:{show:false},
    axisTick:{show:true, customValues:yt, length:3, lineStyle:{color:'#333',width:1}},
    axisLabel:{show:true, customValues:yt, fontSize:8, color:'#4d4d4d', margin:3, fontFamily:fam}});

  const area = (pts, col) => ({type:'line', xAxisIndex:xi, yAxisIndex:yi, data:closeCurve(pts), smooth:0.3,
    symbol:'none', showSymbol:false, silent:true, animation:false,
    lineStyle:{color:'#111', width:1}, areaStyle:{color:col, opacity:0.55}, z:2});
  series.push(area(d.rep, pinkFill));
  series.push(area(d.gene, cyanFill));

  if (d.cen.length) {
    series.push({type:'custom', xAxisIndex:xi+1, yAxisIndex:yi+2, data:d.cen, silent:true, animation:false,
      encode:{x:[0,1]},
      renderItem:(params, api) => {
        const a = api.coord([api.value(0), 0]);
        const b = api.coord([api.value(1), 1]);
        return {type:'rect', shape:{x:a[0], y:b[1], width:b[0]-a[0], height:a[1]-b[1]}, style:{fill:'#D6311A'}};
      }});
  }

  series.push({type:'scatter', xAxisIndex:xi+2, yAxisIndex:yi+3, data:d.map, symbolSize:4,
    itemStyle:{color:'#000'}, silent:true, animation:false, z:3});
  if (d.stars.length) {
    series.push({type:'scatter', xAxisIndex:xi+2, yAxisIndex:yi+3, data:d.stars, symbolSize:1,
      itemStyle:{color:'rgba(0,0,0,0)'}, silent:true, animation:false,
      label:{show:true, position:'inside', formatter:'*', fontSize:12, color:'#8a8a8a', offset:[0,3], fontFamily:fam}});
  }

  graphic.push({type:'text', x:lx, y:ly, silent:true,
    style:{text:name, fontSize:8.5, fill:'#333', fontFamily:fam, verticalAlign:'middle', textVerticalAlign:'middle'}});
});

// axis titles (column 1)
rowsY.forEach(R => {
  graphic.push({type:'text', x:12, y:(R.dens[0]+R.dens[1])/2 - 3, rotation:Math.PI/2, silent:true,
    style:{text:'Density', fontSize:10, fill:'#000', fontFamily:fam, align:'center', textAlign:'center', verticalAlign:'middle', textVerticalAlign:'middle'}});
  graphic.push({type:'text', x:9, y:(R.scat[0]+R.scat[1])/2, rotation:Math.PI/2, silent:true,
    style:{text:'Genetic\nposition (cM)', fontSize:10, lineHeight:10.5, fill:'#000', fontFamily:fam, align:'center', textAlign:'center', verticalAlign:'middle', textVerticalAlign:'middle'}});
});
[[406,758],[659,758],[152,906]].forEach(([x,y]) => {
  graphic.push({type:'text', x, y, silent:true,
    style:{text:'Physical position (Mb)', fontSize:10, fill:'#000', fontFamily:fam, align:'center', textAlign:'center', verticalAlign:'middle', textVerticalAlign:'middle'}});
});
// legend
graphic.push({type:'rect', shape:{x:366, y:781, width:31, height:31}, style:{fill:'#6FD6D9', stroke:'#1a1a1a', lineWidth:1.5}, silent:true});
graphic.push({type:'rect', shape:{x:366, y:833, width:31, height:31}, style:{fill:'#F7B2AB', stroke:'#1a1a1a', lineWidth:1.5}, silent:true});
graphic.push({type:'text', x:411, y:797, silent:true, style:{text:'Gene', fontSize:14.5, fill:'#000', fontFamily:fam, verticalAlign:'middle', textVerticalAlign:'middle'}});
graphic.push({type:'text', x:411, y:849, silent:true, style:{text:'Centromeric repeat', fontSize:14.5, fill:'#000', fontFamily:fam, verticalAlign:'middle', textVerticalAlign:'middle'}});

const chart = echarts.init(document.getElementById('c'), null, {renderer:'canvas', width:777, height:911});
chart.setOption({
  animation:false,
  backgroundColor:'#fff',
  textStyle:{fontFamily:fam},
  grid, xAxis, yAxis, series, graphic
});
</script></body></html>
